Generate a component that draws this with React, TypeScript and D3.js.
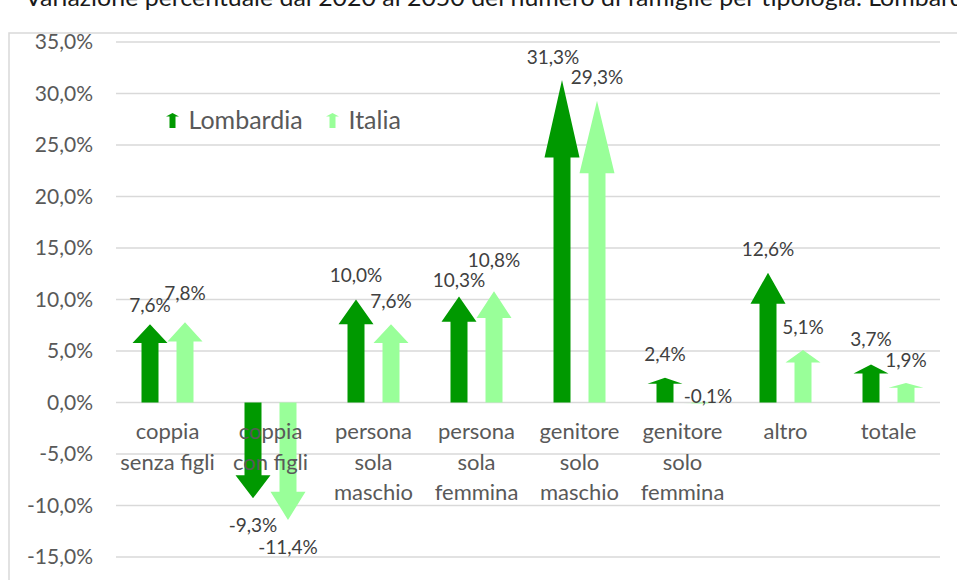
import React from "react";
import * as d3 from "d3";

const title = "Variazione percentuale dal 2020 al 2050 del numero di famiglie per tipologia. Lombardia";
const categories = [
  "coppia\nsenza figli",
  "coppia\ncon figli",
  "persona\nsola\nmaschio",
  "persona\nsola\nfemmina",
  "genitore\nsolo\nmaschio",
  "genitore\nsolo\nfemmina",
  "altro",
  "totale",
];
const seriesNames = ["Lombardia", "Italia"];
const lombardia = [7.6, -9.3, 10.0, 10.3, 31.3, 2.4, 12.6, 3.7];
const italia = [7.8, -11.4, 7.6, 10.8, 29.3, -0.1, 5.1, 1.9];
const yTicks = [-15, -10, -5, 0, 5, 10, 15, 20, 25, 30, 35];
const colors = ["#009900", "#99ff99"];

// label nudges (layout tweaks), [dx, dy]
const nudgeL = [[0, 4], [0, 0], [0, -1], [0, 7], [-9, 0], [0, 0], [0, 0], [0, -2]];
const nudgeI = [[0, -6], [0, 0], [0, 0], [0, -8], [0, 0], [8, -34], [0, 0], [0, 0]];

const FONT = "Lato, 'Liberation Sans', sans-serif";
const fmt = (v: number) => v.toFixed(1).replace(".", ",") + "%";

function arrowPath(cx: number, y0: number, y1: number, headW: number, shaftW: number) {
  const L = Math.abs(y1 - y0);
  const dir = y1 < y0 ? 1 : -1;
  const yb = y1 + dir * L * 0.24;
  return `M${cx - shaftW / 2},${y0}L${cx - shaftW / 2},${yb}L${cx - headW / 2},${yb}L${cx},${y1}L${cx + headW / 2},${yb}L${cx + shaftW / 2},${yb}L${cx + shaftW / 2},${y0}Z`;
}

export default function App() {
  const W = 957, H = 580;
  const x = d3.scaleBand<string>().domain(categories).range([116, 940]).padding(0);
  const bw = x.bandwidth();
  const xs = d3.scaleBand<string>().domain(seriesNames).range([(bw - 70) / 2, (bw + 70) / 2]).padding(0);
  const y = d3.scaleLinear().domain([-15, 35]).range([557, 42]);
  const series = [lombardia, italia];
  const nudges = [nudgeL, nudgeI];
  const headW = xs.bandwidth();
  const shaftW = 17;

  return (
    <svg width={W} height={H} style={{ position: "absolute", left: 0, top: 0, background: "#fff" }} fontFamily={FONT}>
      <rect x={0} y={0} width={W} height={H} fill="#fff" />
      <text x={25} y={6} fontSize={23} fill="#1a1a1a" textLength={957} lengthAdjust="spacingAndGlyphs">{title}</text>
      <rect x={9} y={33} width={1000} height={600} fill="none" stroke="#d9d9d9" strokeWidth={1.5} />
      {yTicks.map((t) => (
        <g key={t}>
          <line x1={116} x2={940} y1={y(t)} y2={y(t)} stroke="#d9d9d9" strokeWidth={1.5} />
          <text x={93} y={y(t)} dy="0.35em" textAnchor="end" fontSize={21} fill="#595959">{fmt(t)}</text>
        </g>
      ))}
      {series.map((vals, si) => (
        <g key={si}>
          {vals.map((v, i) => {
            const cx = (x(categories[i]) as number) + (xs(seriesNames[si]) as number) + headW / 2;
            return <path key={i} d={arrowPath(cx, y(0), y(v), headW, shaftW)} fill={colors[si]} />;
          })}
        </g>
      ))}
      {categories.map((c) => (
        <text key={c} textAnchor="middle" fontSize={22} fill="#595959">
          {c.split("\n").map((ln, i) => (
            <tspan key={i} x={(x(c) as number) + bw / 2} y={439 + i * 30.5}>{ln}</tspan>
          ))}
        </text>
      ))}
      {series.map((vals, si) => (
        <g key={"l" + si}>
          {vals.map((v, i) => {
            const cx = (x(categories[i]) as number) + (xs(seriesNames[si]) as number) + headW / 2;
            const my = v >= 0 ? y(v) - 23 : y(v) + 27;
            const [dx, dy] = nudges[si][i];
            return (
              <text key={i} x={cx + dx} y={my + dy} dy="0.35em" textAnchor="middle" fontSize={19} fill="#404040">{fmt(v)}</text>
            );
          })}
        </g>
      ))}
      {seriesNames.map((s, si) => {
        const lx = si === 0 ? 172.5 : 332.5;
        return (
          <g key={s}>
            <path d={arrowPath(lx, 128, 113, 13, 6)} fill={colors[si]} />
            <text x={lx + 16} y={120.5} dy="0.35em" fontSize={25} fill="#595959">{s}</text>
          </g>
        );
      })}
    </svg>
  );
}
